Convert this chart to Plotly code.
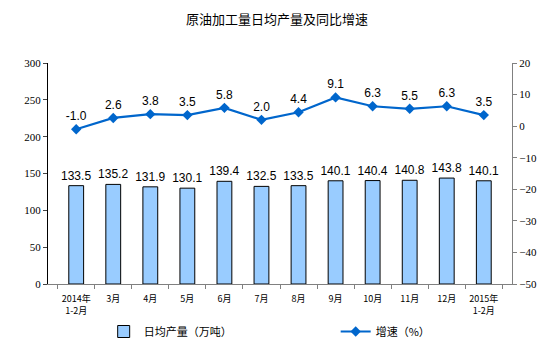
import plotly.graph_objects as go

categories = ["2014年<br>1-2月", "3月", "4月", "5月", "6月", "7月", "8月", "9月", "10月", "11月", "12月", "2015年<br>1-2月"]
output_values = [133.5, 135.2, 131.9, 130.1, 139.4, 132.5, 133.5, 140.1, 140.4, 140.8, 143.8, 140.1]
growth_values = [-1.0, 2.6, 3.8, 3.5, 5.8, 2.0, 4.4, 9.1, 6.3, 5.5, 6.3, 3.5]

fig = go.Figure()
fig.add_trace(go.Bar(
    x=categories, y=output_values, name="日均产量（万吨）",
    marker=dict(color="#99CCFF", line=dict(color="#000000", width=1)),
    width=0.4,
    text=[f"{v:.1f}" for v in output_values], textposition="outside",
    constraintext="none",
    textfont=dict(family="Liberation Sans, Arial", size=12, color="#000000"),
    cliponaxis=False, legend="legend",
))
fig.add_trace(go.Scatter(
    x=categories, y=growth_values, name="增速（%）", yaxis="y2",
    mode="lines+markers+text",
    line=dict(color="#0066CC", width=2.2),
    marker=dict(symbol="diamond", size=8, color="#0066CC"),
    text=[f"{v:.1f}" for v in growth_values], textposition="top center",
    textfont=dict(family="Liberation Sans, Arial", size=12, color="#000000"),
    cliponaxis=False, legend="legend2",
))

legend_common = dict(orientation="h", yanchor="middle", y=-0.215, xanchor="left",
                     font=dict(family="Noto Sans CJK SC", size=11), itemwidth=30,
                     bgcolor="rgba(0,0,0,0)")

fig.update_layout(
    width=554, height=353,
    margin=dict(l=48, r=42, t=63, b=69, autoexpand=False),
    paper_bgcolor="white", plot_bgcolor="white",
    font=dict(family="Noto Sans CJK SC, Liberation Sans", size=10, color="#000000"),
    title=dict(text="原油加工量日均产量及同比增速", x=0.5, xanchor="center", y=0.945, yanchor="middle",
               font=dict(family="Noto Sans CJK SC", size=13, color="#000000")),
    showlegend=True,
    legend=dict(legend_common, x=0.12),
    legend2=dict(legend_common, x=0.62),
    bargap=0.6,
    xaxis=dict(type="category", showline=True, linecolor="#808080", linewidth=1,
               ticks="outside", tickson="boundaries", ticklen=4, tickcolor="#808080",
               tickangle=0, automargin=False, ticklabelstandoff=6,
               tickfont=dict(family="Noto Sans CJK SC, Liberation Sans", size=9),
               showgrid=False, mirror=False),
    yaxis=dict(range=[0, 300], dtick=50, showline=True, linecolor="#000000", linewidth=1,
               ticks="outside", ticklen=4, showgrid=False, zeroline=False, automargin=False,
               tickfont=dict(family="Liberation Serif, Times New Roman", size=11)),
    yaxis2=dict(range=[-50, 20], dtick=10, overlaying="y", side="right", showline=True,
                linecolor="#808080", linewidth=1, ticks="outside", ticklen=4, tickcolor="#808080",
                showgrid=False, zeroline=False, automargin=False,
                tickfont=dict(family="Liberation Serif, Times New Roman", size=11)),
)

fig.write_html("out.html")
